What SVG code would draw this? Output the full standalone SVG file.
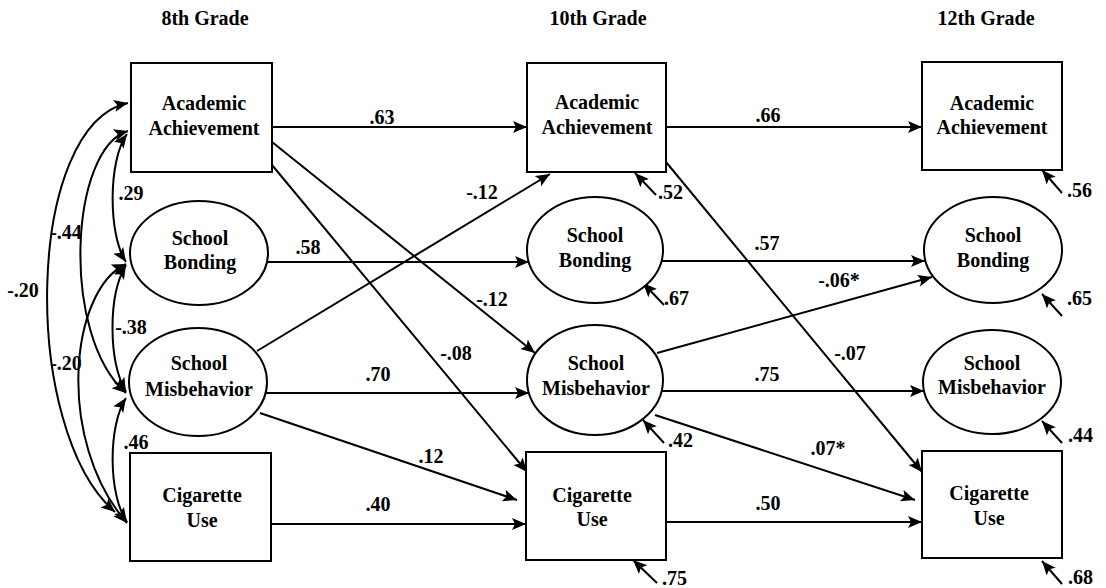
<svg xmlns="http://www.w3.org/2000/svg" width="1106" height="588" viewBox="0 0 1106 588">
<style>
text{font-family:'Liberation Serif',serif;font-weight:bold;font-size:20px;fill:#000}
.n{text-anchor:middle}
.h{text-anchor:middle}
.l{text-anchor:middle}
.s{text-anchor:start}
.shape{fill:#fff;stroke:#000;stroke-width:2}
.c{fill:none;stroke:#000;stroke-width:2;marker-end:url(#ah)}
.d{fill:none;stroke:#000;stroke-width:2;marker-end:url(#ah);marker-start:url(#ah)}
</style>
<defs>
<marker id="ah" markerUnits="userSpaceOnUse" markerWidth="16" markerHeight="14" refX="14" refY="6" orient="auto-start-reverse">
<path d="M0,0 L14,6 L0,12 L3,6 z" fill="#000"/>
</marker>
</defs>
<rect width="1106" height="588" fill="#fff"/>
<g id="headers">
<text class="h" x="205" y="25">8th Grade</text>
<text class="h" x="598" y="25">10th Grade</text>
<text class="h" x="986" y="25">12th Grade</text>
</g>
<g id="connectors">
<line class="c" x1="272" y1="127" x2="527" y2="127"/>
<line class="c" x1="666" y1="127" x2="922" y2="127"/>
<line class="c" x1="267" y1="262" x2="529" y2="262"/>
<line class="c" x1="661" y1="261" x2="925" y2="261"/>
<line class="c" x1="266" y1="393" x2="529" y2="393"/>
<line class="c" x1="661" y1="391" x2="924" y2="391"/>
<line class="c" x1="271" y1="524" x2="526" y2="524"/>
<line class="c" x1="666" y1="522" x2="922" y2="522"/>
<line class="c" x1="272" y1="142" x2="535" y2="353"/>
<line class="c" x1="272" y1="165" x2="527" y2="472"/>
<line class="c" x1="257" y1="351" x2="550" y2="174"/>
<line class="c" x1="260" y1="413" x2="517" y2="500"/>
<line class="c" x1="666" y1="162" x2="922" y2="472"/>
<line class="c" x1="657" y1="353" x2="932" y2="277"/>
<line class="c" x1="655" y1="415" x2="915" y2="500"/>
<line class="c" x1="656" y1="195" x2="635" y2="173"/>
<line class="c" x1="664" y1="305" x2="643" y2="283"/>
<line class="c" x1="664" y1="443" x2="643" y2="420"/>
<line class="c" x1="657" y1="583" x2="633" y2="560"/>
<line class="c" x1="1062" y1="193" x2="1042" y2="170"/>
<line class="c" x1="1062" y1="316" x2="1042" y2="294"/>
<line class="c" x1="1062" y1="443" x2="1042" y2="421"/>
<line class="c" x1="1062" y1="584" x2="1042" y2="561"/>
<path class="d" d="M128,103 C25,125 20,430 115,512"/>
<path class="d" d="M128,131 C70,148 60,335 126,393"/>
<path class="d" d="M127,134 C108,160 108,235 126,262"/>
<path class="d" d="M126,265 C108,295 108,360 126,392"/>
<path class="d" d="M126,264 C70,290 55,440 127,523"/>
<path class="d" d="M126,398 C108,425 108,495 127,522"/>
</g>
<g id="labels">
<text class="l" x="382" y="124">.63</text>
<text class="l" x="768" y="122">.66</text>
<text class="l" x="308" y="254">.58</text>
<text class="l" x="767" y="250">.57</text>
<text class="l" x="378" y="381">.70</text>
<text class="l" x="767" y="381">.75</text>
<text class="l" x="378" y="511">.40</text>
<text class="l" x="768" y="510">.50</text>
<text class="l" x="482" y="199">-.12</text>
<text class="l" x="492" y="306">-.12</text>
<text class="l" x="456" y="360">-.08</text>
<text class="l" x="431" y="463">.12</text>
<text class="l" x="850" y="360">-.07</text>
<text class="l" x="839" y="287">-.06*</text>
<text class="l" x="828" y="455">.07*</text>
<text class="s" x="658" y="199">.52</text>
<text class="s" x="664" y="305">.67</text>
<text class="s" x="668" y="447">.42</text>
<text class="s" x="662" y="585">.75</text>
<text class="s" x="1067" y="197">.56</text>
<text class="s" x="1067" y="305">.65</text>
<text class="s" x="1068" y="442">.44</text>
<text class="s" x="1068" y="584">.68</text>
<text class="l" x="131" y="200">.29</text>
<text class="l" x="66" y="239">-.44</text>
<text class="l" x="23" y="297">-.20</text>
<text class="l" x="131" y="334">-.38</text>
<text class="l" x="66" y="370">-.20</text>
<text class="l" x="136" y="449">.46</text>
</g>
<g id="aa8"><rect class="shape" x="131" y="63" width="141" height="109"/><text class="n" x="204" y="110">Academic</text><text class="n" x="204" y="135">Achievement</text></g>
<g id="sb8"><ellipse class="shape" cx="199" cy="253" rx="69" ry="52"/><text class="n" x="200" y="245">School</text><text class="n" x="200" y="269">Bonding</text></g>
<g id="sm8"><ellipse class="shape" cx="198" cy="382" rx="69" ry="54"/><text class="n" x="199" y="370">School</text><text class="n" x="199" y="396">Misbehavior</text></g>
<g id="cu8"><rect class="shape" x="130" y="453" width="141" height="108"/><text class="n" x="202" y="502">Cigarette</text><text class="n" x="202" y="527">Use</text></g>
<g id="aa10"><rect class="shape" x="527" y="63" width="139" height="109"/><text class="n" x="597" y="109">Academic</text><text class="n" x="597" y="134">Achievement</text></g>
<g id="sb10"><ellipse class="shape" cx="595" cy="250" rx="68" ry="53"/><text class="n" x="595" y="242">School</text><text class="n" x="595" y="267">Bonding</text></g>
<g id="sm10"><ellipse class="shape" cx="595" cy="380" rx="68" ry="55"/><text class="n" x="596" y="370">School</text><text class="n" x="596" y="395">Misbehavior</text></g>
<g id="cu10"><rect class="shape" x="526" y="452" width="140" height="108"/><text class="n" x="592" y="502">Cigarette</text><text class="n" x="592" y="526">Use</text></g>
<g id="aa12"><rect class="shape" x="922" y="62" width="140" height="108"/><text class="n" x="992" y="110">Academic</text><text class="n" x="992" y="134">Achievement</text></g>
<g id="sb12"><ellipse class="shape" cx="993" cy="250" rx="69" ry="53"/><text class="n" x="993" y="242">School</text><text class="n" x="993" y="267">Bonding</text></g>
<g id="sm12"><ellipse class="shape" cx="992" cy="382" rx="69" ry="52"/><text class="n" x="992" y="370">School</text><text class="n" x="992" y="394">Misbehavior</text></g>
<g id="cu12"><rect class="shape" x="922" y="451" width="140" height="107"/><text class="n" x="989" y="500">Cigarette</text><text class="n" x="989" y="525">Use</text></g>
</svg>
